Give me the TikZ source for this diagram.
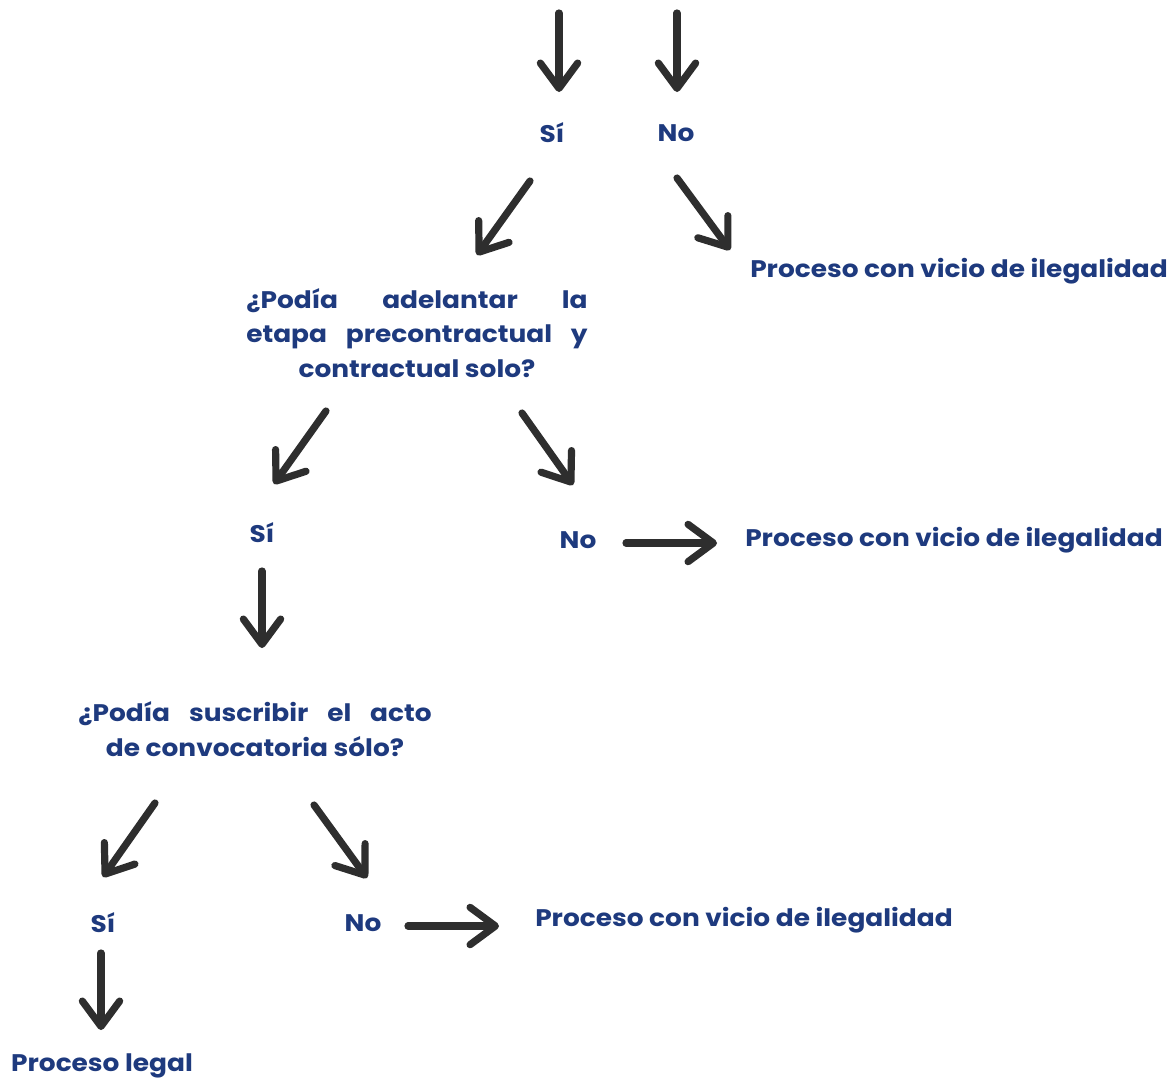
\documentclass[tikz,border=0pt]{standalone}
\usepackage{fontspec}
\setmainfont{Poppins}[FakeStretch=1.1]
\usetikzlibrary{arrows.meta}
\definecolor{txtblue}{HTML}{1E3A7E}
\definecolor{arrgray}{HTML}{2E2E2E}
\tikzset{
 lbl/.style={text=txtblue, font=\fontsize{18pt}{26pt}\selectfont\bfseries, inner sep=0pt, anchor=center},
 arr/.style={draw=arrgray, line width=5.4pt, line cap=round,
   -{Straight Barb[length=19pt,width=28pt,line cap=round,line join=round]}},
}
\begin{document}
\begin{tikzpicture}[x=0.75pt,y=-0.75pt]
\useasboundingbox[fill=white] (0,0) rectangle (1168,1086);
% text nodes
\node[lbl] (si1) at (552,133) {Sí};
\node[lbl] (no1) at (676,133) {No};
\node[lbl, anchor=west] (ile1) at (750,271) {Proceso con vicio de ilegalidad};
\node[lbl, align=center] (q1) at (417,333)
  {\makebox[256pt][s]{¿Podía adelantar la}\\\makebox[256pt][s]{etapa precontractual y}\\contractual solo?};
\node[lbl] (si2) at (262,533) {Sí};
\node[lbl] (no2) at (578,540) {No};
\node[lbl, anchor=west] (ile2) at (745,540) {Proceso con vicio de ilegalidad};
\node[lbl, align=center] (q2) at (255,729)
  {\makebox[265pt][s]{¿Podía suscribir el acto}\\de convocatoria sólo?};
\node[lbl] (si3) at (103,923) {Sí};
\node[lbl] (no3) at (363,923) {No};
\node[lbl, anchor=west] (ile3) at (535,920) {Proceso con vicio de ilegalidad};
\node[lbl] (legal) at (102,1066) {Proceso legal};
% arrow end points
\coordinate (t1s) at (559,13);   \coordinate (t1e) at (559,92);
\coordinate (t2s) at (677,13);   \coordinate (t2e) at (677,92);
\coordinate (d1s) at (530,181);  \coordinate (d1e) at (477,255);
\coordinate (d2s) at (677,178);  \coordinate (d2e) at (730,250);
\coordinate (d3s) at (326,411);  \coordinate (d3e) at (274,484);
\coordinate (d4s) at (522,413);  \coordinate (d4e) at (573,485);
\coordinate (h1s) at (626,543);  \coordinate (h1e) at (717,543);
\coordinate (v1s) at (262,571);  \coordinate (v1e) at (262,648);
\coordinate (d5s) at (155,803);  \coordinate (d5e) at (103,877);
\coordinate (d6s) at (314,805);  \coordinate (d6e) at (367,878);
\coordinate (h2s) at (408,926);  \coordinate (h2e) at (499,926);
\coordinate (v2s) at (101,953);  \coordinate (v2e) at (101,1030);
% connectors
\draw[arr] (t1s) -- (t1e);
\draw[arr] (t2s) -- (t2e);
\draw[arr] (d1s) -- (d1e);
\draw[arr] (d2s) -- (d2e);
\draw[arr] (d3s) -- (d3e);
\draw[arr] (d4s) -- (d4e);
\draw[arr] (h1s) -- (h1e);
\draw[arr] (v1s) -- (v1e);
\draw[arr] (d5s) -- (d5e);
\draw[arr] (d6s) -- (d6e);
\draw[arr] (h2s) -- (h2e);
\draw[arr] (v2s) -- (v2e);
\end{tikzpicture}
\end{document}
